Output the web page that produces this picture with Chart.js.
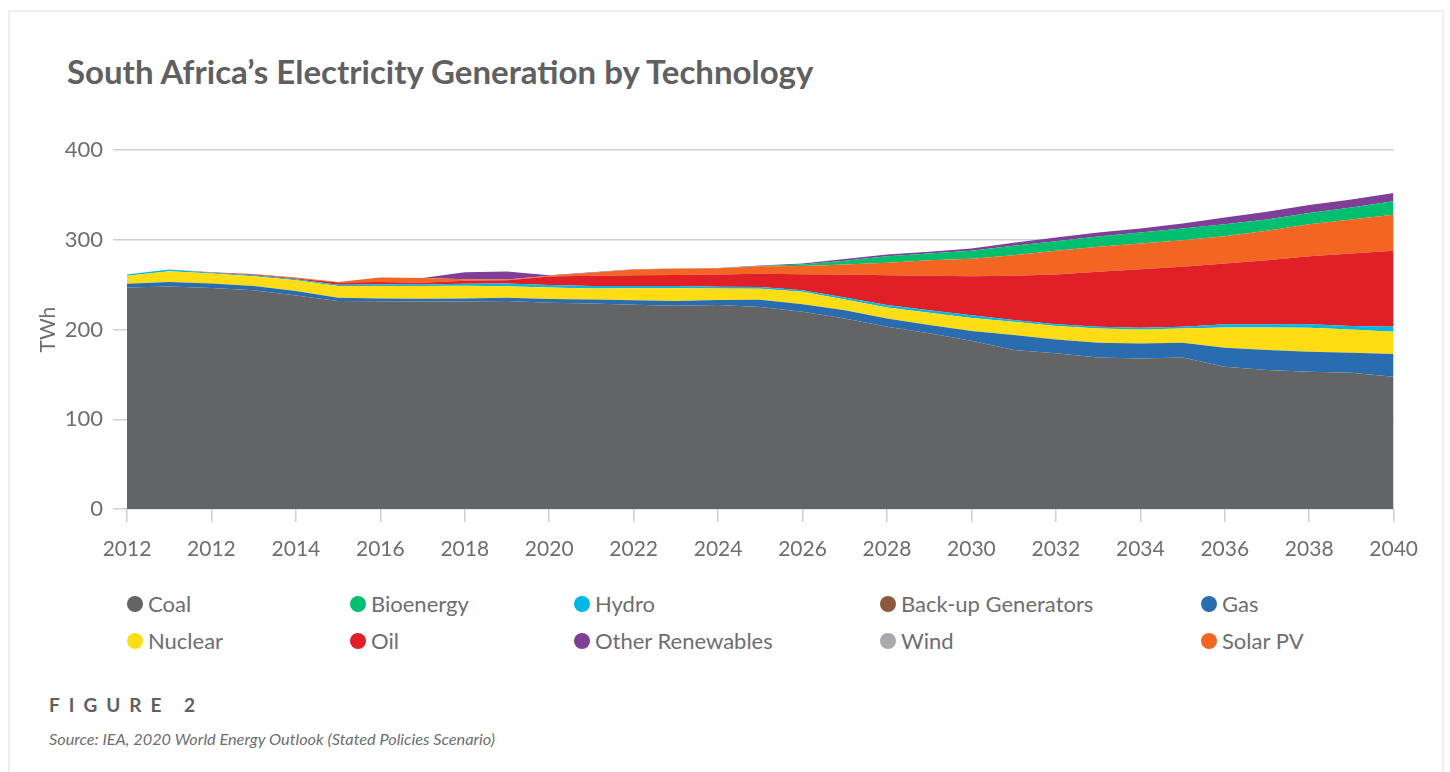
<!DOCTYPE html>
<html>
<head>
<meta charset="utf-8">
<script src="https://cdn.jsdelivr.net/npm/chart.js@4.4.1/dist/chart.umd.min.js"></script>
<style>
  body { margin: 0; background: #fff; font-family: Lato, sans-serif; }
  #card { position: absolute; left: 8px; top: 10px; width: 1432px; height: 800px; border: 2px solid #efefef; border-bottom: none; }
  #title { position: absolute; left: 67px; top: 51px; font-weight: bold; font-size: 33px; color: #5f6062; white-space: nowrap; }
  #wrap { position: absolute; left: 0; top: 127px; width: 1433px; height: 443px; }
  .item { position: absolute; font-size: 22px; color: #6d6e71; line-height: 24px; white-space: nowrap; }
  .dot { position: absolute; left: 0; top: 4px; width: 16px; height: 16px; border-radius: 50%; }
  .item span { position: absolute; left: 21px; top: 0; }
  #fig { position: absolute; left: 49px; top: 693px; font-weight: bold; font-size: 19px; letter-spacing: 9px; color: #5f6062; }
  #source { position: absolute; left: 49px; top: 729px; font-style: italic; font-size: 16.3px; color: #6d6e71; }
</style>
</head>
<body>
<div id="card"></div>
<div id="title">South Africa’s Electricity Generation by Technology</div>
<div id="wrap"><canvas id="chart"></canvas></div>
<div id="legend"></div>
<div id="fig">FIGURE 2</div>
<div id="source">Source: IEA, 2020 World Energy Outlook (Stated Policies Scenario)</div>
<script>
const years = [2010, 2011, 2012, 2013, 2014, 2015, 2016, 2017, 2018, 2019, 2020,
  2021, 2022, 2023, 2024, 2025, 2026, 2027, 2028, 2029, 2030,
  2031, 2032, 2033, 2034, 2035, 2036, 2037, 2038, 2039, 2040];
// shown under every second year, as printed in the source figure
const tickLabels = ['2012', '2012', '2014', '2016', '2018', '2020', '2022', '2024',
  '2026', '2028', '2030', '2032', '2034', '2036', '2038', '2040'];
const yTicks = [0, 100, 200, 300, 400];

// TWh, stacked bottom to top
const coal = [247, 248, 246.5, 244, 238, 232, 231.7, 231.4, 231.4, 232, 230,
  229.2, 227.8, 226.5, 227.3, 225.3, 219.8, 212.5, 203.1, 195.8, 187.5,
  177.2, 173.5, 169, 167.9, 169, 158.6, 154.9, 153, 151.9, 147.4];
const gas = [4, 5, 5, 4.5, 5, 3.5, 3, 2.9, 3.4, 3.4, 4,
  4.3, 4.9, 5.5, 5.6, 8, 8.6, 9.2, 9.4, 9.2, 11,
  16.7, 15.6, 16.3, 16.7, 16.3, 21.1, 22.3, 22.3, 22.3, 25.3];
const nuclear = [9, 12, 11, 11, 12, 13, 13.8, 14.2, 14, 13, 13,
  12.4, 13.3, 14, 13, 12.2, 13.7, 11.9, 12.2, 13.8, 14.5,
  14.8, 14.8, 16, 15.6, 16, 22.7, 25.2, 26.7, 26, 24.8];
const hydro = [1.5, 2, 1, 1, 1, 1.5, 1.8, 1.9, 2.2, 3, 2.6,
  2.7, 2.6, 2.5, 1.8, 1.9, 1.9, 2.3, 2.6, 2.9, 3,
  1.9, 2.2, 1.8, 1.8, 1.8, 3.7, 3.7, 4.1, 3.7, 5.6];
const backup = [0, 0, 0, 0, 0, 0, 0, 0, 0, 0, 0,
  0, 0, 0, 0, 0, 0, 0, 0, 0, 0,
  0, 0, 0, 0, 0, 0, 0, 0, 0, 0];
const oil = [0, 0, 0.5, 1, 1, 2.5, 2.7, 1.8, 3.5, 3.5, 9.6,
  11.4, 12.1, 12.5, 13.8, 14.8, 17.8, 25.6, 33.4, 38.3, 43.6,
  49.4, 55.4, 61.3, 65.4, 66.9, 67.7, 71.3, 75.8, 81, 84.7];
const solar = [0, 0, 0, 0.5, 1, 0.5, 5, 5.2, 1.5, 1, 0.8,
  3.5, 6.3, 6.8, 7, 8.5, 9.2, 11, 13.7, 17.4, 19.3,
  23, 26.3, 27.9, 28.6, 29.7, 30.4, 32.7, 35.6, 37.9, 40.1];
const wind = [0, 0, 0, 0, 0, 0, 0, 0, 0, 0, 0,
  0, 0, 0, 0, 0, 0, 0, 0, 0, 0,
  0, 0, 0, 0, 0, 0, 0, 0, 0, 0];
const bioenergy = [0, 0, 0, 0, 0, 0, 0, 0, 0, 0, 0,
  0, 0, 0, 0, 0.2, 1.5, 4.2, 7.5, 7.5, 8.9,
  10.4, 10.8, 11.4, 12.3, 13, 13.3, 12.7, 12.5, 13.4, 15.3];
const otherRen = [0, 0, 0, 0, 0, 0, 0, 0, 8, 9, 0.5,
  0.3, 0.3, 0.3, 0.3, 0.5, 1.3, 1.9, 1.9, 1.8, 2.6,
  3.3, 4.1, 4.5, 4.4, 5.5, 7.4, 8.5, 8.9, 8.9, 9.2];

const series = [
  { name: 'Coal', data: coal, color: '#636466' },
  { name: 'Gas', data: gas, color: '#2a6cb0' },
  { name: 'Nuclear', data: nuclear, color: '#ffdd15' },
  { name: 'Hydro', data: hydro, color: '#00b7e6' },
  { name: 'Back-up Generators', data: backup, color: '#8b5a3c' },
  { name: 'Oil', data: oil, color: '#e01f26' },
  { name: 'Solar PV', data: solar, color: '#f26522' },
  { name: 'Wind', data: wind, color: '#a7a9ac' },
  { name: 'Bioenergy', data: bioenergy, color: '#00bf6f' },
  { name: 'Other Renewables', data: otherRen, color: '#7f3f98' }
];

// legend grid as in the figure: two rows, five columns
const legendRows = [
  ['Coal', 'Bioenergy', 'Hydro', 'Back-up Generators', 'Gas'],
  ['Nuclear', 'Oil', 'Other Renewables', 'Wind', 'Solar PV']
];
const legendCols = [127, 350, 574, 880, 1201];
const legendTops = [592, 629];

const legend = document.getElementById('legend');
legendRows.forEach(function(row, r) {
  row.forEach(function(name, c) {
    const s = series.find(x => x.name === name);
    const item = document.createElement('div');
    item.className = 'item';
    item.style.left = legendCols[c] + 'px';
    item.style.top = legendTops[r] + 'px';
    item.innerHTML = '<div class="dot" style="background:' + s.color + '"></div><span>' + name + '</span>';
    legend.appendChild(item);
  });
});

const textColor = '#6d6e71';
const gridColor = '#cfcfcf';

new Chart(document.getElementById('chart'), {
  type: 'line',
  data: {
    labels: years,
    datasets: series.map((s, i) => ({
      label: s.name,
      data: s.data,
      backgroundColor: s.color,
      borderColor: s.color,
      borderWidth: 0,
      pointRadius: 0,
      tension: 0,
      fill: i === 0 ? 'origin' : '-1'
    }))
  },
  options: {
    responsive: true,
    maintainAspectRatio: false,
    animation: false,
    layout: { padding: { top: 17, right: 34, left: 0, bottom: 0 } },
    plugins: {
      legend: { display: false },
      tooltip: { enabled: false }
    },
    scales: {
      x: {
        stacked: true,
        offset: false,
        border: { display: false },
        grid: { drawOnChartArea: false, drawTicks: true, tickLength: 13, color: gridColor, lineWidth: 1.5 },
        ticks: {
          autoSkip: false,
          maxRotation: 0,
          padding: 15,
          color: textColor,
          font: { family: 'Lato', size: 21 },
          callback: function(val, i) { return i % 2 === 0 ? tickLabels[i / 2] : null; }
        },
        afterFit: function(scale) { scale.height = 61; }
      },
      y: {
        stacked: true,
        min: yTicks[0],
        max: yTicks[yTicks.length - 1],
        border: { display: false },
        grid: { color: gridColor, lineWidth: 1.5, tickLength: 14 },
        ticks: {
          stepSize: 100,
          padding: 10,
          color: textColor,
          font: { family: 'Lato', size: 22 }
        },
        title: {
          display: true,
          text: 'TWh',
          color: textColor,
          font: { family: 'Lato', size: 21 },
          padding: { top: 36, bottom: 0 }
        },
        afterFit: function(scale) { scale.width = 127; }
      }
    }
  }
});
</script>
</body>
</html>
